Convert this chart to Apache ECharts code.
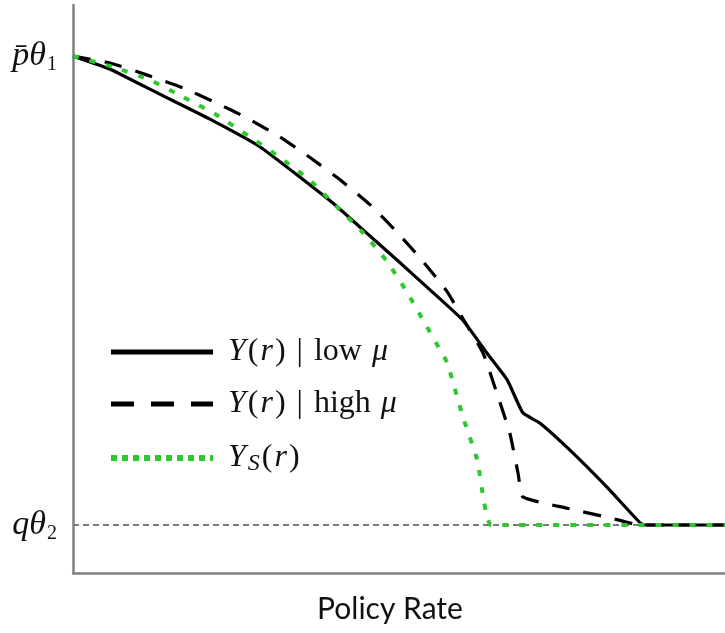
<!DOCTYPE html>
<html><head><meta charset="utf-8">
<script src="https://cdn.jsdelivr.net/npm/echarts@6/dist/echarts.min.js"></script>
<style>html,body{margin:0;padding:0;background:#fff}#c{width:725px;height:633px}</style>
</head><body><div id="c"></div>
<script>
// Policy rate (0-100, arbitrary units) and output level (0-100, arbitrary units)
const lowX  = [0, 5.67, 13.3, 21.0, 28.7, 39.9, 44.5, 49.7, 54.8, 59.8, 63.5, 66.6, 69.0, 71.6, 76.7, 81.9, 87.0, 87.7, 100];
const lowY  = [91.0, 88.7, 84.3, 79.9, 75.0, 65.1, 60.4, 55.1, 49.8, 44.5, 38.7, 34.0, 28.2, 26.4, 21.1, 15.1, 8.8, 8.45, 8.45];
const highX = [0, 5.67, 11.3, 16.9, 22.1, 26.7, 31.7, 36.3, 41.0, 45.6, 49.7, 53.5, 57.4, 60.1, 62.9, 65.0, 67.0, 68.3, 69.0, 75.8, 82.4, 87.0, 100];
const highY = [91.0, 89.8, 87.7, 85.4, 82.7, 80.1, 76.8, 73.2, 69.2, 64.8, 60.0, 55.1, 49.5, 44.2, 38.7, 31.7, 24.6, 17.3, 13.4, 11.4, 9.7, 8.45, 8.45];
const sX    = [0, 6.13, 11.8, 16.9, 22.1, 27.1, 31.7, 36.3, 39.9, 44.5, 48.2, 51.2, 53.7, 56.3, 57.4, 59.8, 62.0, 62.9, 63.5, 64.1, 100];
const sY    = [91.0, 89.1, 86.8, 83.8, 80.6, 76.8, 73.2, 69.2, 65.1, 59.9, 54.8, 49.5, 44.5, 39.3, 37.0, 27.5, 19.9, 13.4, 9.9, 8.45, 8.45];
const refX  = [0, 100];
const refY  = [8.45, 8.45];

const seriesNames = ['Y(r) | low μ', 'Y(r) | high μ', 'Y_S(r)'];
const legendRich  = ['{p|}{i|Y}{n|(}{i|r}{n|) }{bar||}{n| low }{i|μ}',
                     '{p|}{i|Y}{n|(}{i|r}{n|) }{bar||}{n| high }{i|μ}',
                     '{p|}{i|Y}{sub|S}{n|(}{i|r}{n|)}'];
const yTickValues = [8.45, 91.0];
const yTickLabels = ['{i|q}{i|θ}{s|2}', '{i|p\u0304}{i|θ}{s|1}'];
const xAxisName = 'Policy Rate';

const pairs = (xs, ys) => xs.map((x, i) => [x, ys[i]]);
const serif = 'Liberation Serif';
const GREEN = '#2ec72e';
const hidden = { color: 'rgba(0,0,0,0)', borderWidth: 0, opacity: 0 };

const chart = echarts.init(document.getElementById('c'));
chart.setOption({
  animation: false,
  grid: { left: 73, right: 0, top: 5, bottom: 60 },
  xAxis: {
    type: 'value', min: 0, max: 100,
    axisLine: { show: true, lineStyle: { color: '#808080', width: 2.5 } },
    axisTick: { show: false }, axisLabel: { show: false }, splitLine: { show: false },
    name: xAxisName, nameLocation: 'middle', nameGap: 21,
    nameTextStyle: { fontFamily: 'Lato', fontSize: 30, color: '#111', padding: [0, 18, 0, 0] }
  },
  yAxis: {
    type: 'value', min: 0, max: 100,
    axisLine: { show: true, lineStyle: { color: '#808080', width: 2.5 } },
    axisTick: { show: false }, splitLine: { show: false },
    axisLabel: {
      show: true, customValues: yTickValues, margin: 16,
      formatter: v => yTickLabels[yTickValues.indexOf(v)] || '',
      rich: {
        i: { fontFamily: serif, fontStyle: 'italic', fontSize: 34, lineHeight: 36, color: '#111' },
        s: { fontFamily: serif, fontSize: 20, lineHeight: 18, padding: [18, 0, 0, 1], color: '#111' }
      }
    }
  },
  legend: {
    orient: 'vertical', left: 108, top: 336, padding: 0,
    itemWidth: 102, itemHeight: 14, itemGap: 20,
    data: [
      { name: seriesNames[0], itemStyle: hidden, lineStyle: { width: 5, type: 'solid', color: '#000' } },
      { name: seriesNames[1], itemStyle: hidden, lineStyle: { width: 5, type: [23, 17], color: '#000' } },
      { name: seriesNames[2], itemStyle: hidden, lineStyle: { width: 6, type: [6, 5], color: GREEN } }
    ],
    formatter: name => legendRich[seriesNames.indexOf(name)],
    textStyle: {
      rich: {
        p: { width: 8 },
        i: { fontFamily: serif, fontStyle: 'italic', fontSize: 32, lineHeight: 34, color: '#111', padding: [0, 2, 0, 2] },
        n: { fontFamily: serif, fontSize: 32, lineHeight: 34, color: '#111' },
        bar: { fontFamily: serif, fontSize: 32, lineHeight: 34, color: '#111', padding: [0, 3, 0, 3] },
        sub: { fontFamily: serif, fontStyle: 'italic', fontSize: 24, lineHeight: 22, padding: [12, 2, 0, 0], color: '#111' }
      }
    }
  },
  series: [
    { name: 'ref', type: 'line', data: pairs(refX, refY), symbol: 'none', silent: true, z: 1,
      lineStyle: { color: '#7a7a7a', width: 2, type: [6, 4] } },
    { name: seriesNames[0], type: 'line', data: pairs(lowX, lowY), symbol: 'none', z: 3, smooth: 0.15,
      itemStyle: { color: '#000' }, lineStyle: { color: '#000', width: 3.2 } },
    { name: seriesNames[1], type: 'line', data: pairs(highX, highY), symbol: 'none', z: 4, smooth: 0.15,
      itemStyle: { color: '#000' }, lineStyle: { color: '#000', width: 3.2, type: [18, 14] } },
    { name: seriesNames[2], type: 'line', data: pairs(sX, sY), symbol: 'none', z: 5, smooth: 0.15,
      itemStyle: { color: GREEN }, lineStyle: { color: GREEN, width: 4, type: [6, 11] } }
  ]
});
</script></body></html>
